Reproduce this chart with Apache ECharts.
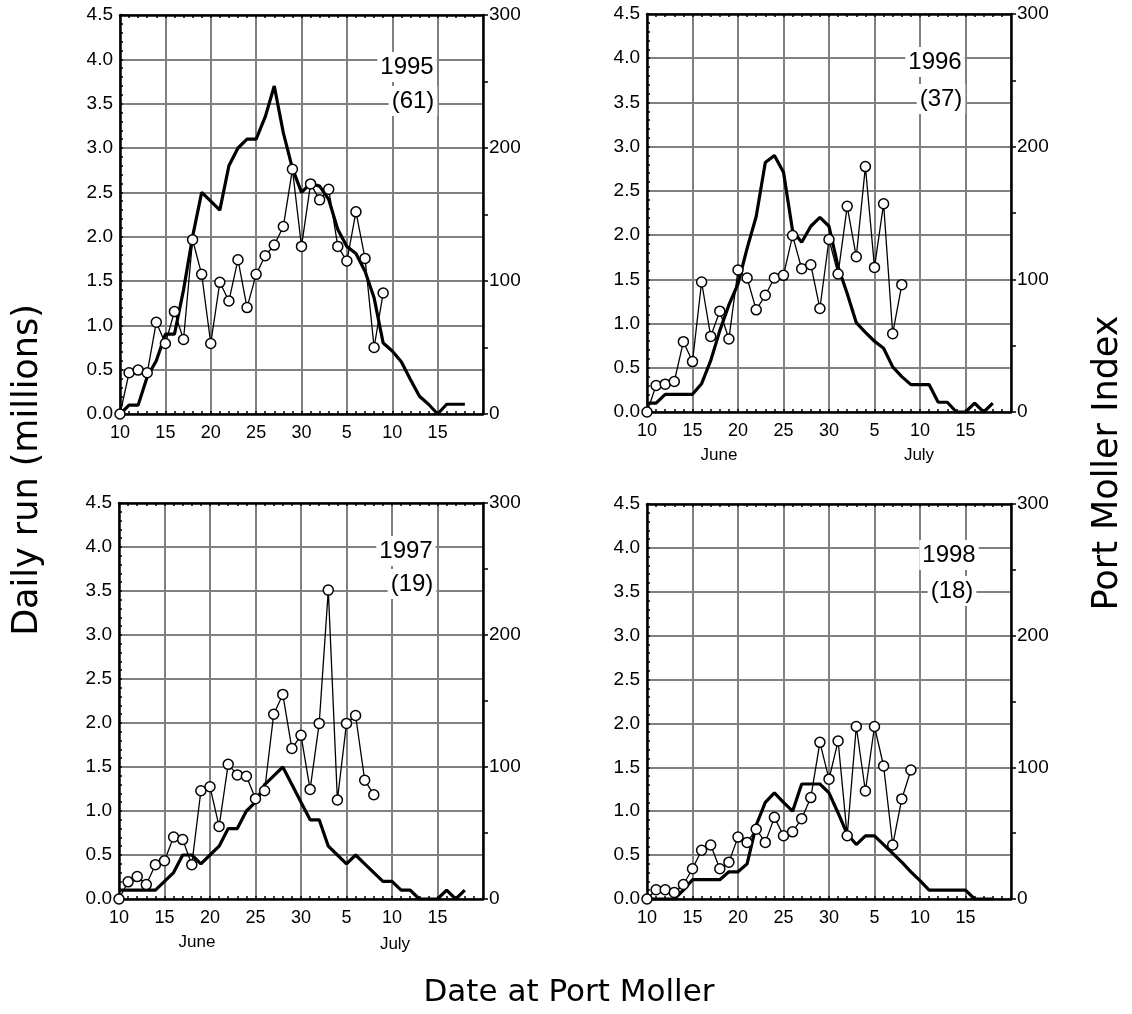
<!DOCTYPE html>
<html>
<head>
    <meta charset="utf-8">
    <script src="https://cdn.jsdelivr.net/npm/echarts@6/dist/echarts.min.js"></script>
</head>
<body style="margin:0;background:#fff">
<div id="main" style="width:1132px;height:1014px;"></div>

<script type="text/javascript">
    // days are counted from 1 June (31 = 1 July)
    var runDays = [10, 11, 12, 13, 14, 15, 16, 17, 18, 19, 20, 21, 22, 23, 24, 25, 26, 27, 28, 29,
                   30, 31, 32, 33, 34, 35, 36, 37, 38, 39, 40, 41, 42, 43, 44, 45, 46, 47, 48];

    // daily run, millions (thick line, left axis)
    var run1995 = [0, 0.1, 0.1, 0.42, 0.6, 0.9, 0.9, 1.4, 2.0, 2.5, 2.4, 2.3, 2.8, 3.0, 3.1, 3.1, 3.35, 3.7, 3.17, 2.77,
                   2.5, 2.6, 2.57, 2.42, 2.08, 1.89, 1.81, 1.61, 1.31, 0.8, 0.71, 0.59, 0.39, 0.2, 0.11, 0, 0.11, 0.11, 0.11];
    var run1996 = [0.1, 0.1, 0.2, 0.2, 0.2, 0.2, 0.32, 0.58, 0.92, 1.21, 1.45, 1.85, 2.21, 2.82, 2.9, 2.71, 2.05, 1.92, 2.1, 2.2,
                   2.1, 1.64, 1.34, 1.01, 0.9, 0.8, 0.72, 0.51, 0.4, 0.31, 0.31, 0.31, 0.11, 0.11, 0, 0, 0.1, 0, 0.1];
    var run1997 = [0.1, 0.1, 0.1, 0.1, 0.1, 0.2, 0.3, 0.5, 0.5, 0.4, 0.5, 0.6, 0.8, 0.8, 1.0, 1.1, 1.3, 1.4, 1.5, 1.3,
                   1.1, 0.9, 0.9, 0.6, 0.5, 0.4, 0.5, 0.4, 0.3, 0.2, 0.2, 0.1, 0.1, 0, 0, 0, 0.1, 0, 0.1];
    var run1998 = [0, 0, 0, 0, 0.1, 0.22, 0.22, 0.22, 0.22, 0.31, 0.31, 0.4, 0.84, 1.1, 1.21, 1.1, 1.0, 1.31, 1.31, 1.31,
                   1.21, 0.98, 0.74, 0.62, 0.72, 0.72, 0.62, 0.52, 0.42, 0.31, 0.21, 0.1, 0.1, 0.1, 0.1, 0.1, 0, 0, 0];

    // Port Moller index (open circles, right axis), from 10 June on
    var idx1995 = [0, 31, 33, 31, 69, 53, 77, 56, 131, 105, 53, 99, 85, 116, 80, 105, 119, 127, 141, 184,
                   126, 173, 161, 169, 126, 115, 152, 117, 50, 91];
    var idx1996 = [0, 20, 21, 23, 53, 38, 98, 57, 76, 55, 107, 101, 77, 88, 101, 103, 133, 108, 111, 78,
                   130, 104, 155, 117, 185, 109, 157, 59, 96];
    var idx1997 = [0, 13, 17, 11, 26, 29, 47, 45, 26, 82, 85, 55, 102, 94, 93, 76, 82, 140, 155, 114,
                   124, 83, 133, 234, 75, 133, 139, 90, 79];
    var idx1998 = [0, 7, 7, 5, 11, 23, 37, 41, 23, 28, 47, 43, 53, 43, 62, 48, 51, 61, 77, 119,
                   91, 120, 48, 131, 82, 131, 101, 41, 76, 98];

    var years = ['1995', '1996', '1997', '1998'];
    var yearCounts = ['(61)', '(37)', '(19)', '(18)'];
    var xTickLabels = ['10', '15', '20', '25', '30', '5', '10', '15', ''];

    var runs = [run1995, run1996, run1997, run1998];
    var idxs = [idx1995, idx1996, idx1997, idx1998];

    // plot boxes
    var boxes = [
        {left: 120, top: 15, width: 363, height: 399},
        {left: 647, top: 14, width: 364, height: 398},
        {left: 119, top: 503, width: 364, height: 396},
        {left: 647, top: 504, width: 364, height: 395}
    ];
    var yearPos = [[407, 67, 413, 101], [935, 62, 941, 99], [406, 551, 412, 584], [949, 555, 952, 591]];

    var TXT = '"Liberation Sans", Arial, sans-serif';
    var TITLE = '"DejaVu Sans", sans-serif';
    var GRID = '#808080';

    var chart = echarts.init(document.getElementById('main'));
    var grids = [], xAxes = [], yAxes = [], series = [], graphics = [];

    function pairs(values) {
        return values.map(function (v, k) { return [runDays[k], v]; });
    }

    boxes.forEach(function (b, i) {
        grids.push(b);

        // bottom date axis
        xAxes.push({
            gridIndex: i, type: 'value', min: 10, max: 50, interval: 5, position: 'bottom',
            axisLine: {onZero: false, lineStyle: {color: '#000', width: 2.5}},
            axisTick: {inside: true, length: 3, lineStyle: {color: '#000', width: 1.5}},
            minorTick: {show: true, splitNumber: 5, length: 3, lineStyle: {color: '#000', width: 1.5}},
            splitLine: {show: true, lineStyle: {color: GRID, width: 2}},
            axisLabel: {
                margin: 10, fontSize: 18, fontFamily: TXT, color: '#000',
                formatter: function (v) {
                    return xTickLabels[Math.round((v - 10) / 5)] || '';
                }
            }
        });
        // top frame with day ticks
        xAxes.push({
            gridIndex: i, type: 'value', min: 10, max: 50, interval: 5, position: 'top',
            axisLine: {onZero: false, lineStyle: {color: '#000', width: 2.5}},
            axisTick: {inside: true, length: 3, lineStyle: {color: '#000', width: 1.5}},
            minorTick: {show: true, splitNumber: 5, length: 3, lineStyle: {color: '#000', width: 1.5}},
            splitLine: {show: false},
            axisLabel: {show: false}
        });
        // daily run, millions
        yAxes.push({
            gridIndex: i, type: 'value', min: 0, max: 4.5, interval: 0.5, position: 'left',
            axisLine: {onZero: false, lineStyle: {color: '#000', width: 2.5}},
            axisTick: {inside: true, length: 3, lineStyle: {color: '#000', width: 1.5}},
            minorTick: {show: true, splitNumber: 5, length: 3, lineStyle: {color: '#000', width: 1.5}},
            splitLine: {show: true, lineStyle: {color: GRID, width: 2}},
            axisLabel: {
                margin: 7, fontSize: 19, fontFamily: TXT, color: '#000',
                formatter: function (v) { return v.toFixed(1); }
            }
        });
        // Port Moller index
        yAxes.push({
            gridIndex: i, type: 'value', min: 0, max: 300, interval: 50, position: 'right',
            axisLine: {onZero: false, lineStyle: {color: '#000', width: 2.5}},
            axisTick: {inside: false, length: 5, lineStyle: {color: '#000', width: 1.5}},
            splitLine: {show: false},
            axisLabel: {
                margin: 6, fontSize: 19, fontFamily: TXT, color: '#000',
                formatter: function (v) { return v % 100 === 0 ? String(v) : ''; }
            }
        });

        series.push({
            type: 'line', xAxisIndex: 2 * i, yAxisIndex: 2 * i, data: pairs(runs[i]),
            showSymbol: false, z: 3,
            lineStyle: {color: '#000', width: 3.2}
        });
        series.push({
            type: 'line', xAxisIndex: 2 * i, yAxisIndex: 2 * i + 1, data: pairs(idxs[i]),
            symbol: 'circle', symbolSize: 10, z: 4,
            lineStyle: {color: '#000', width: 1.3},
            itemStyle: {color: '#fff', borderColor: '#000', borderWidth: 1.5}
        });

        var p = yearPos[i];
        graphics.push({
            type: 'text', x: p[0], y: p[1], z: 10,
            style: {text: years[i], font: '24px ' + TXT, fill: '#000', align: 'center', verticalAlign: 'middle',
                    backgroundColor: '#fff', padding: [3, 3]}
        });
        graphics.push({
            type: 'text', x: p[2], y: p[3], z: 10,
            style: {text: yearCounts[i], font: '24px ' + TXT, fill: '#000', align: 'center', verticalAlign: 'middle',
                    backgroundColor: '#fff', padding: [3, 3]}
        });
    });

    // month names under the 1996 and 1997 panels
    [[719, 455, 'June'], [919, 455, 'July'], [197, 942, 'June'], [395, 944, 'July']].forEach(function (m) {
        graphics.push({
            type: 'text', x: m[0], y: m[1],
            style: {text: m[2], font: '17px ' + TXT, fill: '#000', align: 'center', verticalAlign: 'middle'}
        });
    });

    graphics.push({
        type: 'text', x: 28, y: 470, rotation: Math.PI / 2,
        style: {text: 'Daily run (millions)', font: '35px ' + TITLE, fill: '#000', align: 'center', verticalAlign: 'middle'}
    });
    graphics.push({
        type: 'text', x: 1108, y: 463, rotation: Math.PI / 2,
        style: {text: 'Port Moller Index', font: '35px ' + TITLE, fill: '#000', align: 'center', verticalAlign: 'middle'}
    });
    graphics.push({
        type: 'text', x: 569, y: 993,
        style: {text: 'Date at Port Moller', font: '31px ' + TITLE, fill: '#000', align: 'center', verticalAlign: 'middle'}
    });

    var option = {
        animation: false,
        backgroundColor: '#fff',
        grid: grids,
        xAxis: xAxes,
        yAxis: yAxes,
        series: series,
        graphic: graphics
    };
    chart.setOption(option);
</script>
</body>
</html>
